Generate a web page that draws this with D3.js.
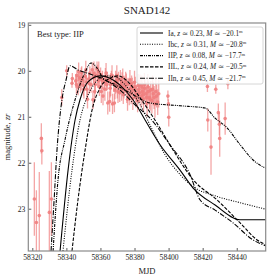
<!DOCTYPE html>
<html>
<head>
<meta charset="utf-8">
<script src="https://cdn.jsdelivr.net/npm/d3@7"></script>
<style>
  body { margin: 0; background: #fff; }
  svg text { font-family: "Liberation Serif", "DejaVu Serif", serif; fill: #222; }
</style>
</head>
<body>
<svg id="chart" width="280" height="280"></svg>
<script>
// observed photometry (MJD, zr magnitude, error)
const obsMjd = [
  58321.2, 58322.4, 58324.1, 58325.3, 58325.6, 58330.0, 58331.2,
  58337.3, 58340.2, 58343.3, 58343.5,
  58345.5, 58346.2, 58346.9, 58347.6, 58348.3, 58349.0, 58349.6, 58350.3, 58351.0, 58351.7,
  58352.4, 58353.1, 58353.8, 58354.5, 58355.2, 58355.9, 58356.6, 58357.3, 58358.0, 58358.7,
  58359.4, 58360.1, 58360.8, 58361.5, 58362.2, 58362.9, 58363.6, 58364.3, 58365.0, 58365.7,
  58366.4, 58367.1, 58367.8, 58368.5, 58369.2, 58369.9, 58370.6, 58371.3, 58372.0, 58372.7,
  58373.4, 58374.1, 58374.8, 58375.5, 58376.2, 58376.9, 58377.6, 58378.3, 58379.0, 58379.7,
  58380.4, 58381.1, 58381.8, 58382.5, 58383.2, 58383.9, 58384.6, 58385.3, 58386.0, 58386.7,
  58387.4, 58388.1, 58388.8, 58389.5, 58390.2, 58391.0, 58392.0, 58393.0,
  58345.9, 58347.2, 58348.7, 58350.0, 58351.4, 58352.0, 58353.5, 58355.6, 58356.2, 58357.0,
  58358.4, 58359.0, 58360.5, 58361.2, 58362.6, 58363.3, 58364.0, 58365.4, 58366.0, 58366.8,
  58368.2, 58368.9, 58369.6, 58370.3, 58371.7, 58372.4, 58373.1, 58373.8, 58375.2, 58375.9,
  58377.3, 58378.0, 58378.7, 58380.0, 58380.8, 58382.1, 58382.9, 58384.3, 58385.0, 58385.8,
  58387.0, 58387.8, 58389.2, 58390.6, 58391.5, 58392.5, 58393.6, 58394.2,
  58399.6, 58399.9, 58400.1,
  58422.8, 58423.0, 58424.9, 58427.7, 58429.2, 58429.8, 58430.0, 58433.2, 58434.8
];
const obsMag = [
  22.79, 23.30, 23.15, 21.47, 21.74, 23.08, 22.79,
  20.58, 20.00, 20.27, 20.17,
  20.22, 20.10, 20.35, 20.15, 20.28, 20.05, 20.20, 20.40, 20.12, 20.25,
  20.62, 20.18, 20.05, 20.30, 19.98, 20.15, 20.45, 20.10, 19.95, 20.22,
  20.35, 20.08, 20.18, 20.55, 20.25, 20.12, 20.30, 20.70, 20.20, 20.38,
  20.15, 20.72, 20.28, 20.42, 20.22, 20.35, 20.18, 20.48, 20.30, 20.25,
  20.52, 20.35, 20.22, 20.45, 20.30, 20.55, 20.38, 20.28, 20.60, 20.42,
  20.35, 20.50, 20.65, 20.40, 20.30, 20.55, 20.45, 20.62, 20.38, 20.50,
  20.70, 20.45, 20.58, 20.42, 20.65, 20.50, 20.72, 20.55,
  20.30, 20.02, 20.18, 20.32, 19.98, 20.40, 20.28, 20.63, 20.05, 20.30,
  20.12, 20.02, 20.45, 20.20, 20.40, 20.05, 20.22, 20.67, 20.30, 20.10,
  20.70, 20.25, 20.10, 20.45, 20.20, 20.40, 20.15, 20.35, 20.28, 20.62,
  20.20, 20.48, 20.35, 20.25, 20.58, 20.32, 20.48, 20.35, 20.52, 20.30,
  20.58, 20.35, 20.62, 20.40, 20.58, 20.45, 20.68, 20.50,
  20.55, 20.72, 21.01,
  20.34, 21.07, 21.66, 20.40, 20.91, 21.16, 21.47, 21.04, 20.28
];
const obsErr = [
  0.80, 0.70, 0.95, 0.33, 0.30, 0.90, 0.80,
  0.18, 0.12, 0.10, 0.12,
  0.15, 0.12, 0.18, 0.12, 0.20, 0.15, 0.12, 0.20, 0.14, 0.16,
  0.20, 0.12, 0.15, 0.18, 0.16, 0.12, 0.22, 0.14, 0.15, 0.12,
  0.20, 0.15, 0.12, 0.20, 0.15, 0.18, 0.14, 0.25, 0.12, 0.20,
  0.15, 0.22, 0.18, 0.20, 0.15, 0.25, 0.16, 0.20, 0.15, 0.22,
  0.20, 0.18, 0.20, 0.25, 0.15, 0.20, 0.22, 0.18, 0.25, 0.20,
  0.22, 0.18, 0.25, 0.20, 0.22, 0.25, 0.20, 0.28, 0.22, 0.25,
  0.30, 0.22, 0.25, 0.20, 0.28, 0.25, 0.30, 0.25,
  0.22, 0.20, 0.25, 0.22, 0.20, 0.25, 0.22, 0.20, 0.25, 0.20,
  0.25, 0.22, 0.25, 0.20, 0.25, 0.22, 0.20, 0.22, 0.25, 0.22,
  0.20, 0.25, 0.22, 0.25, 0.22, 0.25, 0.20, 0.25, 0.22, 0.25,
  0.22, 0.25, 0.20, 0.25, 0.22, 0.25, 0.22, 0.25, 0.22, 0.25,
  0.22, 0.28, 0.25, 0.30, 0.25, 0.30, 0.28, 0.30,
  0.12, 0.10, 0.20,
  0.12, 0.25, 0.60, 0.10, 0.20, 0.25, 0.40, 0.35, 0.12
];

// model light curves
const iaMjd  = [58336.3, 58341.0, 58345.1, 58348.0, 58352.7, 58359.8, 58365.6, 58371.5, 58379.1, 58386.2, 58395.0, 58406.7, 58414.4, 58427.3, 58441.9, 58458];
const iaMag  = [23.92, 22.16, 21.07, 20.63, 20.24, 20.11, 20.16, 20.31, 20.63, 21.07, 21.61, 22.16, 22.55, 22.92, 23.24, 23.24];
const ibcMjd = [58338.0, 58343.3, 58348.0, 58352.7, 58357.4, 58362.7, 58368.6, 58374.5, 58383.3, 58389.1, 58398.0, 58406.8, 58414.4, 58427.3, 58442.0, 58458];
const ibcMag = [23.92, 22.16, 21.07, 20.53, 20.24, 20.11, 20.13, 20.31, 20.74, 21.18, 21.83, 22.26, 22.52, 22.72, 22.87, 23.02];
const iipMjd = [58332.2, 58335.1, 58339.2, 58345.1, 58351.0, 58354.5, 58358.0, 58361.5, 58368.6, 58377.4, 58389.1, 58406.7, 58421.4, 58427.3, 58434.3, 58442.0, 58449.6, 58458];
const iipMag = [23.92, 22.37, 21.50, 20.63, 20.03, 19.83, 19.94, 20.16, 20.30, 20.48, 20.70, 20.76, 20.81, 21.03, 21.24, 21.61, 21.94, 22.14];
const iilMjd = [58343.3, 58346.8, 58351.0, 58355.1, 58359.8, 58365.6, 58370.4, 58376.2, 58383.3, 58392.0, 58402.6, 58414.4, 58428.5, 58442.0, 58452.0, 58458];
const iilMag = [23.92, 22.81, 21.72, 20.85, 20.37, 20.16, 20.11, 20.24, 20.59, 21.07, 21.72, 22.37, 22.81, 23.31, 23.68, 23.80];
const iinMjd = [58331.0, 58332.8, 58334.5, 58337.4, 58339.8, 58342.1, 58346.8, 58353.9, 58362.7, 58371.5, 58380.3, 58389.1, 58400.8, 58412.6, 58418.5, 58427.3, 58437.9, 58449.6, 58458];
const iinMag = [23.92, 22.81, 21.72, 20.63, 20.20, 19.89, 19.98, 20.07, 20.20, 20.42, 20.74, 21.03, 21.61, 22.26, 22.81, 23.03, 23.31, 23.68, 23.82];

const legendLabels = [
  {type: "Ia",  z: "0.23", M: "20.1", dash: null},
  {type: "Ibc", z: "0.31", M: "20.8", dash: "1,1.4"},
  {type: "IIP", z: "0.08", M: "17.7", dash: "3,1,1,1,1,1"},
  {type: "IIL", z: "0.24", M: "20.5", dash: "3.5,1.5"},
  {type: "IIn", z: "0.45", M: "21.7", dash: "5,1.5,1,1.5"}
];
const models = [
  [iaMjd, iaMag], [ibcMjd, ibcMag], [iipMjd, iipMag], [iilMjd, iilMag], [iinMjd, iinMag]
];
const xTicks = [58320, 58340, 58360, 58380, 58400, 58420, 58440];
const yTicks = [19, 20, 21, 22, 23];

const svg = d3.select('#chart');
const pLeft = 28.3, pRight = 265.7, pTop = 23, pBottom = 251;

const x = d3.scaleLinear().domain([58317.65, 58457.0]).range([pLeft, pRight]);
const y = d3.scaleLinear().domain([18.96, 23.92]).range([pTop, pBottom]);

svg.append('defs').append('clipPath').attr('id', 'clip')
  .append('rect').attr('x', pLeft).attr('y', pTop).attr('width', pRight - pLeft).attr('height', pBottom - pTop);

const plot = svg.append('g').attr('clip-path', 'url(#clip)');

// error bars and points
const obs = obsMjd.map((m, i) => ({mjd: m, mag: obsMag[i], err: obsErr[i]}));
plot.append('g').selectAll('line')
  .data(obs).enter().append('line')
  .attr('x1', d => x(d.mjd)).attr('x2', d => x(d.mjd))
  .attr('y1', d => y(d.mag - d.err)).attr('y2', d => y(d.mag + d.err))
  .attr('stroke', '#f08080').attr('stroke-opacity', 0.7).attr('stroke-width', 1.3);
plot.append('g').selectAll('circle')
  .data(obs).enter().append('circle')
  .attr('cx', d => x(d.mjd)).attr('cy', d => y(d.mag)).attr('r', 1.8)
  .attr('fill', '#f08080').attr('fill-opacity', 0.9);

// models
const line = d3.line().x(d => x(d[0])).y(d => y(d[1])).curve(d3.curveMonotoneX);
models.forEach((m, i) => {
  const pts = m[0].map((v, j) => [v, m[1][j]]);
  plot.append('path')
    .attr('d', line(pts))
    .attr('fill', 'none')
    .attr('stroke', '#000')
    .attr('stroke-width', 1.1)
    .attr('stroke-dasharray', legendLabels[i].dash);
});

// axes
const fmt = d3.format('d');
const xAxis = svg.append('g')
  .attr('transform', `translate(0, ${pBottom})`)
  .call(d3.axisBottom(x).tickValues(xTicks).tickFormat(fmt).tickSizeInner(-3).tickSizeOuter(0).tickPadding(4));
const yAxis = svg.append('g')
  .attr('transform', `translate(${pLeft}, 0)`)
  .call(d3.axisLeft(y).tickValues(yTicks).tickFormat(fmt).tickSizeInner(-3).tickSizeOuter(0).tickPadding(3));
[xAxis, yAxis].forEach(a => {
  a.attr('font-family', null);
  a.select('.domain').remove();
  a.selectAll('.tick line').attr('stroke', '#333').attr('stroke-width', 0.8);
  a.selectAll('.tick text').style('font-size', '7.6px').attr('fill', '#333');
});

svg.append('rect')
  .attr('x', pLeft).attr('y', pTop).attr('width', pRight - pLeft).attr('height', pBottom - pTop)
  .attr('fill', 'none').attr('stroke', '#8a8a8a').attr('stroke-width', 1.2);

// title and labels
svg.append('text').attr('x', (pLeft + pRight) / 2).attr('y', 14)
  .attr('text-anchor', 'middle').style('font-size', '11px').text('SNAD142');
svg.append('text').attr('x', (pLeft + pRight) / 2).attr('y', 274)
  .attr('text-anchor', 'middle').style('font-size', '8.5px').text('MJD');
const yl = svg.append('text')
  .attr('transform', `translate(10, ${(pTop + pBottom) / 2}) rotate(-90)`)
  .attr('text-anchor', 'middle').style('font-size', '8.5px');
yl.append('tspan').text('magnitude, ');
yl.append('tspan').style('font-style', 'italic').text('zr');

svg.append('text').attr('x', 37).attr('y', 37).style('font-size', '8.5px').text('Best type: IIP');

// legend
const lg = svg.append('g').attr('transform', 'translate(137, 27)');
lg.append('rect').attr('width', 126).attr('height', 57).attr('rx', 2)
  .attr('fill', '#fff').attr('fill-opacity', 0.85).attr('stroke', '#ccc').attr('stroke-width', 0.8);
legendLabels.forEach((d, i) => {
  const yy = 6 + i * 11.3;
  lg.append('line').attr('x1', 3).attr('x2', 26).attr('y1', yy).attr('y2', yy)
    .attr('stroke', '#000').attr('stroke-width', 1.1).attr('stroke-dasharray', d.dash);
  const t = lg.append('text').attr('x', 31).attr('y', yy + 2.5).style('font-size', '7.3px');
  t.append('tspan').text(d.type + ', ');
  t.append('tspan').style('font-style', 'italic').text('z');
  t.append('tspan').text(' \u2243 ' + d.z + ', ');
  t.append('tspan').style('font-style', 'italic').text('M');
  t.append('tspan').text(' \u2243 \u2212' + d.M);
  t.append('tspan').attr('dy', -2.5).style('font-size', '4.5px').text('m');
});
</script>
</body>
</html>
